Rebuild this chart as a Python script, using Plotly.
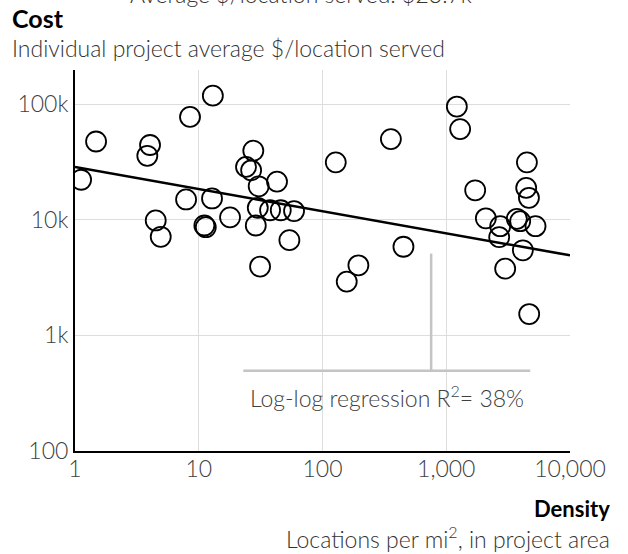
import numpy as np
import plotly.graph_objects as go

# Data (density: locations per sq mi, cost: $/location)
density = [13.0, 8.5, 1.48, 4.04, 3.84, 1.12, 7.9, 12.8, 4.49, 4.93, 11.1, 11.4, 17.9,
           27.6, 24.1, 26.5, 30.5, 42.9, 30.0, 37.7, 46.0, 58.9, 28.9, 54.0, 128, 357,
           31.3, 195, 157, 451, 2993, 4680, 1218, 1295, 4486, 4426, 4656, 1713, 2089,
           2729, 2678, 3720, 3958, 5265, 4160]
cost = [118600, 77700, 47600, 44400, 35800, 22200, 15000, 15300, 9870, 7130, 8930, 8630, 10500,
        39600, 28700, 26800, 19500, 21400, 12700, 12100, 12100, 11900, 8930, 6670, 31400, 49900,
        3940, 4040, 2920, 5850, 3780, 1530, 95400, 60900, 31400, 18900, 15500, 18000, 10300,
        8810, 7080, 10200, 9730, 8810, 5450]

# Regression line: cost = a * density^b
reg_intercept = 28600
reg_slope = -0.191
reg_x = [1, 10000]

# Callout lines (gray) in data units
callout_v_x = [755, 755]
callout_v_y = [5100, 483]
callout_h_x = [22.9, 4770]
callout_h_y = [495, 495]

x_tickvals = [1, 10, 100, 1000, 10000]
x_ticktext = ["1", "10", "100", "1,000", "10,000"]
y_tickvals = [100, 1000, 10000, 100000]
y_ticktext = ["100", "1k", "10k", "100k"]

FONT = "Lato Light, Lato"
BOLD = "Lato"
GRAY = "#404040"
FS = 23

fig = go.Figure()

fig.add_trace(go.Scatter(
    x=callout_v_x, y=callout_v_y, mode="lines",
    line=dict(color="#c4c4c4", width=2.5), hoverinfo="skip", showlegend=False))
fig.add_trace(go.Scatter(
    x=callout_h_x, y=callout_h_y, mode="lines",
    line=dict(color="#c4c4c4", width=2.5), hoverinfo="skip", showlegend=False))

reg_y = [reg_intercept * (v ** reg_slope) for v in reg_x]
fig.add_trace(go.Scatter(
    x=reg_x, y=reg_y, mode="lines",
    line=dict(color="black", width=2.5), showlegend=False))

fig.add_trace(go.Scatter(
    x=density, y=cost, mode="markers",
    marker=dict(symbol="circle", size=20, color="rgba(255,255,255,0)",
                line=dict(color="black", width=1.8)),
    showlegend=False))

L, R, T, B = 75, 58, 70, 103
W, H = 628, 554
pw, ph = W - L - R, H - T - B


def px2paper(px, py):
    return (px - L) / pw, (H - B - py) / ph


annots = []
x, y = px2paper(10, 18)
annots.append(dict(text="<b>Cost</b>", x=x, y=y, xanchor="left", yanchor="middle",
                   font=dict(family=BOLD, size=25, color="black")))
x, y = px2paper(10, 48)
annots.append(dict(text="Individual project average $/location served", x=x, y=y,
                   xanchor="left", yanchor="middle",
                   font=dict(family=FONT, size=FS, color="#333333", weight=300)))
x, y = px2paper(300.5, 10)
annots.append(dict(text="Average $/location served: $23.7k", x=x, y=y,
                   xanchor="center", yanchor="bottom",
                   font=dict(family=FONT, size=FS, color="#333333", weight=300)))
x, y = px2paper(612, 508)
annots.append(dict(text="<b>Density</b>", x=x, y=y, xanchor="right", yanchor="middle",
                   font=dict(family=BOLD, size=22, color="black")))
x, y = px2paper(612, 537)
annots.append(dict(text="Locations per mi<sup>2</sup>, in project area", x=x, y=y,
                   xanchor="right", yanchor="middle",
                   font=dict(family=FONT, size=FS, color="#333333", weight=300)))
x, y = px2paper(386.5, 396)
annots.append(dict(text="Log-log regression R<sup>2</sup>= 38%", x=x, y=y,
                   xanchor="center", yanchor="middle",
                   font=dict(family=FONT, size=FS, color=GRAY, weight=300)))
for a in annots:
    a.update(xref="paper", yref="paper", showarrow=False)

fig.update_layout(
    width=W, height=H,
    margin=dict(l=L, r=R, t=T, b=B, pad=0),
    paper_bgcolor="white", plot_bgcolor="white",
    annotations=annots,
    xaxis=dict(type="log", range=[0, 4], tickvals=x_tickvals, ticktext=x_ticktext,
               showgrid=True, gridcolor="#dddddd", gridwidth=1,
               showline=True, linecolor="black", linewidth=2,
               ticks="", zeroline=False, ticklabelstandoff=-4,
               tickfont=dict(family=FONT, size=FS, color=GRAY, weight=300)),
    yaxis=dict(type="log", range=[2, 5.296], tickvals=y_tickvals, ticktext=y_ticktext,
               showgrid=True, gridcolor="#dddddd", gridwidth=1,
               showline=True, linecolor="black", linewidth=2,
               ticks="", zeroline=False,
               tickfont=dict(family=FONT, size=FS, color=GRAY, weight=300)),
)

fig.write_html("out.html",
               config={"displayModeBar": False},
               post_script="document.body.style.margin='0';document.body.style.padding='0';")
